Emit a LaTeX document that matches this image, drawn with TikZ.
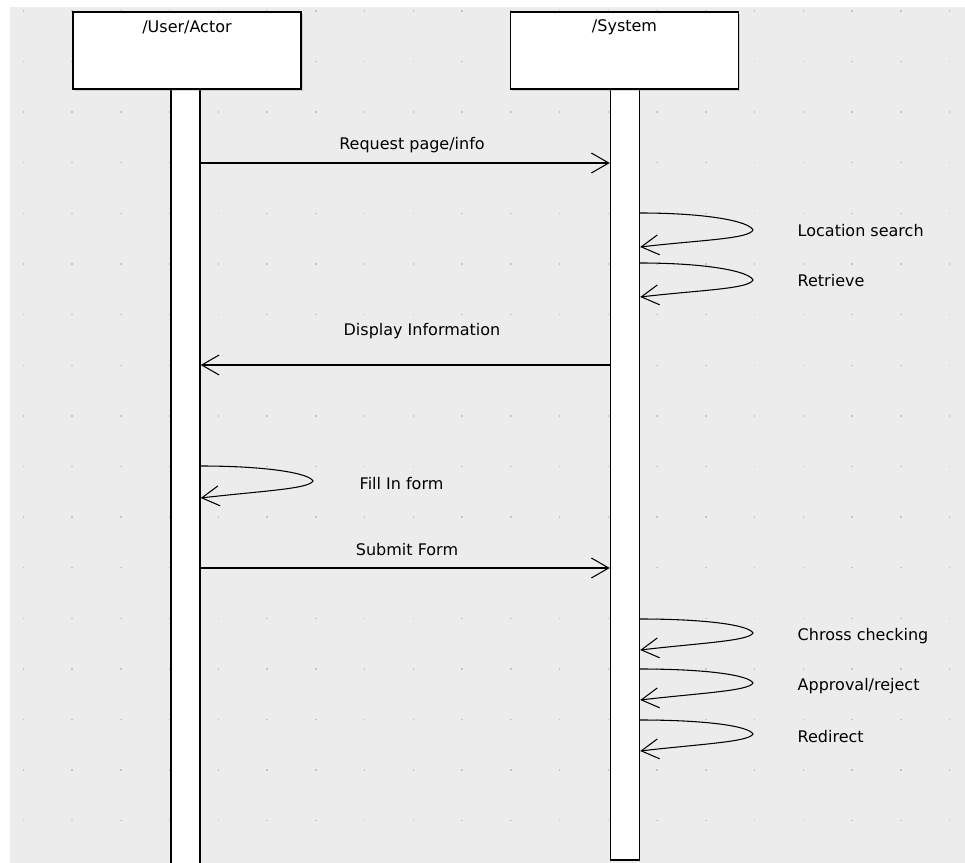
\documentclass[tikz,border=0pt]{standalone}
\usepackage{fontspec}
\setmainfont{DejaVu Sans}
\usetikzlibrary{arrows.meta,shadows}

\definecolor{sheet}{HTML}{ECECEC}
\definecolor{griddot}{HTML}{C4C4C4}

\begin{document}
\begin{tikzpicture}[x=0.75pt,y=-0.75pt,font=\fontsize{12}{14}\selectfont,
  lifebox/.style={draw, line width=1.4pt, fill=white, minimum width=171pt, minimum height=57.75pt,
    drop shadow={shadow xshift=1.2pt, shadow yshift=-1.2pt, opacity=0.3}},
  actbar/.style={draw, line width=1.1pt, fill=white, minimum width=21.75pt},
  msg/.style={line width=0.8pt, -{Straight Barb[length=13pt,width=15pt]}}]

\useasboundingbox (0,0) rectangle (965,863);
\fill[sheet] (10,7) rectangle (965,863);

%% grid dots
\foreach \i in {0,...,19}
  \foreach \j in {0,...,16}
    \fill[griddot] ({23.4+48.75*\i-0.7},{11+50.6*\j-0.7}) rectangle +(1.4,1.4);

%% lifelines
\node[actbar, minimum height=585.75pt] (userbar) at (185.5,479.5) {};
\node[actbar, minimum height=578.25pt] (sysbar) at (625,474.5) {};
\node[lifebox] (user) at (187,50.5) {};
\node (usertitle) at (187,27) {/User/Actor};
\node[lifebox] (sys) at (624.5,50.5) {};
\node (systitle) at (624.5,27) {/System};

%% Request page/info
\draw[msg] (userbar.east |- 0,163) -- (sysbar.west |- 0,163);
\node (req) at (412,145) {Request page/info};

%% System self calls, first part
\foreach \top/\txt [count=\k] in {213/Location search, 263/Retrieve}
{
  \draw[msg] (sysbar.east |- 0,\top) .. controls +(65,0) and +(-4,-9) .. (753,\top+17)
    .. controls +(-4,9) and +(60,-7) .. (sysbar.east |- 0,\top+34);
  \node[anchor=west] (self\k) at (793,\top+18) {\txt};
}

%% Display Information
\draw[msg] (sysbar.west |- 0,365) -- (userbar.east |- 0,365);
\node (disp) at (422,331) {Display Information};

%% Fill In form
\draw[msg] (userbar.east |- 0,466) .. controls +(65,0) and +(-4,-8) .. (313,481)
  .. controls +(-4,8) and +(60,-7) .. (userbar.east |- 0,498);
\node[anchor=west] (fill) at (355,484) {Fill In form};

%% Submit Form
\draw[msg] (userbar.east |- 0,568) -- (sysbar.west |- 0,568);
\node (submit) at (407,550) {Submit Form};

%% System self calls, second part
\foreach \top/\txt [count=\k] in {619/Chross checking, 669/{Approval/reject}, 720/Redirect}
{
  \draw[msg] (sysbar.east |- 0,\top) .. controls +(65,0) and +(-4,-8) .. (753,\top+14)
    .. controls +(-4,8) and +(60,-7) .. (sysbar.east |- 0,\top+31);
  \node[anchor=west] (check\k) at (793,\top+17) {\txt};
}

\end{tikzpicture}
\end{document}
